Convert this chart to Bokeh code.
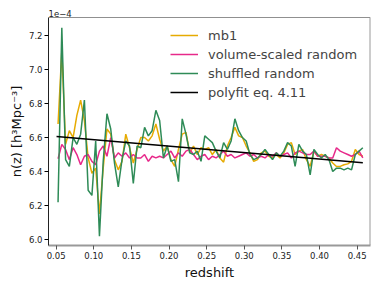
from bokeh.plotting import figure
from bokeh.models import Legend, LegendItem, Span, FixedTicker, PrintfTickFormatter, Range1d
from bokeh.embed import file_html
from bokeh.resources import INLINE

# redshift bin centres
z = [0.0525, 0.0575, 0.0625, 0.0675, 0.0725, 0.0775, 0.0825, 0.0875, 0.0925, 0.0975,
     0.1025, 0.1075, 0.1125, 0.1175, 0.1225, 0.1275, 0.1325, 0.1375, 0.1425, 0.1475,
     0.1525, 0.1575, 0.1625, 0.1675, 0.1725, 0.1775, 0.1825, 0.1875, 0.1925, 0.1975,
     0.2025, 0.2075, 0.2125, 0.2175, 0.2225, 0.2275, 0.2325, 0.2375, 0.2425, 0.2475,
     0.2525, 0.2575, 0.2625, 0.2675, 0.2725, 0.2775, 0.2825, 0.2875, 0.2925, 0.2975,
     0.3025, 0.3075, 0.3125, 0.3175, 0.3225, 0.3275, 0.3325, 0.3375, 0.3425, 0.3475,
     0.3525, 0.3575, 0.3625, 0.3675, 0.3725, 0.3775, 0.3825, 0.3875, 0.3925, 0.3975,
     0.4025, 0.4075, 0.4125, 0.4175, 0.4225, 0.4275, 0.4325, 0.4375, 0.4425, 0.4475,
     0.4525, 0.4575]

# n(z) in units of 1e-4
mb1 = [6.68, 7.11, 6.56, 6.64, 6.60, 6.73, 6.82, 6.70, 6.48, 6.39,
       6.42, 6.15, 6.42, 6.65, 6.62, 6.47, 6.41, 6.46, 6.62, 6.54,
       6.45, 6.53, 6.60, 6.60, 6.58, 6.61, 6.68, 6.59, 6.52, 6.55,
       6.47, 6.43, 6.53, 6.62, 6.63, 6.51, 6.55, 6.50, 6.54, 6.53,
       6.54, 6.50, 6.53, 6.48, 6.455, 6.55, 6.60, 6.66, 6.61, 6.60,
       6.55, 6.51, 6.46, 6.47, 6.51, 6.52, 6.49, 6.48, 6.50, 6.48,
       6.51, 6.56, 6.57, 6.50, 6.52, 6.53, 6.47, 6.43, 6.52, 6.49,
       6.50, 6.49, 6.48, 6.45, 6.43, 6.43, 6.44, 6.445, 6.46, 6.53,
       6.50, 6.49]

volume_random = [6.475, 6.56, 6.53, 6.47, 6.54, 6.50, 6.44, 6.49, 6.50, 6.46,
                 6.44, 6.52, 6.55, 6.49, 6.60, 6.48, 6.51, 6.49, 6.51, 6.48,
                 6.50, 6.48, 6.48, 6.50, 6.46, 6.49, 6.48, 6.49, 6.48, 6.50,
                 6.52, 6.48, 6.51, 6.49, 6.52, 6.53, 6.50, 6.47, 6.49, 6.50,
                 6.47, 6.49, 6.48, 6.50, 6.52, 6.49, 6.50, 6.48, 6.49, 6.50,
                 6.51, 6.49, 6.50, 6.48, 6.49, 6.48, 6.50, 6.49, 6.51, 6.49,
                 6.50, 6.51, 6.48, 6.51, 6.52, 6.51, 6.50, 6.50, 6.52, 6.49,
                 6.49, 6.49, 6.48, 6.48, 6.54, 6.52, 6.51, 6.50, 6.49, 6.50,
                 6.52, 6.48]

shuffled_random = [6.22, 7.245, 6.47, 6.43, 6.60, 6.56, 6.62, 6.82, 6.29, 6.26,
                   6.58, 6.02, 6.46, 6.74, 6.65, 6.45, 6.31, 6.47, 6.58, 6.55,
                   6.33, 6.55, 6.54, 6.66, 6.61, 6.64, 6.76, 6.70, 6.48, 6.55,
                   6.46, 6.47, 6.34, 6.71, 6.62, 6.51, 6.50, 6.52, 6.46, 6.61,
                   6.59, 6.57, 6.52, 6.48, 6.57, 6.53, 6.58, 6.71, 6.64, 6.60,
                   6.58, 6.50, 6.47, 6.48, 6.50, 6.53, 6.50, 6.47, 6.51, 6.49,
                   6.52, 6.57, 6.55, 6.43, 6.56, 6.52, 6.50, 6.38, 6.53, 6.50,
                   6.48, 6.50, 6.47, 6.40, 6.42, 6.42, 6.41, 6.42, 6.41, 6.50,
                   6.52, 6.54]

fit_z = [0.0505, 0.4575]
fit_n = [6.606, 6.452]

x_ticks = [0.05, 0.10, 0.15, 0.20, 0.25, 0.30, 0.35, 0.40, 0.45]
y_ticks = [6.0, 6.2, 6.4, 6.6, 6.8, 7.0, 7.2]

FONT = "DejaVu Sans"
X0, X1 = 0.0398, 0.4677
Y0, Y1 = 5.965, 7.306

p = figure(width=379, height=284, output_backend="svg", toolbar_location=None,
           x_range=Range1d(X0, X1), y_range=Range1d(Y0, Y1),
           min_border_left=48, min_border_right=9, min_border_top=17, min_border_bottom=39)
p.grid.visible = False
p.outline_line_color = None
p.background_fill_color = "white"
p.border_fill_color = "white"

p.title.text = "1e−4"
p.title.align = "left"
p.title.text_font = FONT
p.title.text_font_size = "8.5px"
p.title.text_font_style = "normal"
p.title.text_color = "#222222"
p.title.standoff = 1
p.title.offset = 0

r1 = p.line(z, mb1, line_color="#e6ab02", line_width=1.5)
r2 = p.line(z, volume_random, line_color="#e7298a", line_width=1.5)
r3 = p.line(z, shuffled_random, line_color="#2e8b57", line_width=1.5)
r4 = p.line(fit_z, fit_n, line_color="black", line_width=1.5)

for ax, ticks, fmt in ((p.xaxis, x_ticks, "%.2f"), (p.yaxis, y_ticks, "%.1f")):
    ax.ticker = FixedTicker(ticks=ticks)
    ax.formatter = PrintfTickFormatter(format=fmt)
    ax.major_tick_out = 4
    ax.major_tick_in = 0
    ax.minor_tick_out = 0
    ax.minor_tick_in = 0
    ax.major_label_text_font = FONT
    ax.major_label_text_font_size = "8.5px"
    ax.major_label_text_color = "#222222"
    ax.major_label_standoff = 2
    ax.axis_label_text_font = FONT
    ax.axis_label_text_font_size = "13px"
    ax.axis_label_text_font_style = "normal"
    ax.axis_label_text_color = "#111111"
    ax.axis_label_standoff = 3

p.xaxis.axis_label = "redshift"
p.yaxis.axis_label = "n(z) [h³Mpc⁻³]"
p.yaxis.axis_label_standoff = 2
p.yaxis.axis_line_color = "#222222"
p.xaxis.axis_line_color = "#999999"
p.xaxis.axis_line_width = 2
p.xaxis.major_tick_line_color = "#555555"

p.add_layout(Span(location=Y1, dimension="width", line_color="#222222", line_width=1))
p.add_layout(Span(location=X1, dimension="height", line_color="#999999", line_width=2))

legend = Legend(items=[LegendItem(label="mb1", renderers=[r1]),
                       LegendItem(label="volume-scaled random", renderers=[r2]),
                       LegendItem(label="shuffled random", renderers=[r3]),
                       LegendItem(label="polyfit eq. 4.11", renderers=[r4])],
                location=(122, 145), glyph_width=28, glyph_height=16, label_height=16,
                spacing=3, padding=0, margin=0, border_line_color=None,
                background_fill_alpha=0, label_text_font=FONT, label_text_font_size="13px",
                label_standoff=10)
p.add_layout(legend)

open("out.html", "w").write(file_html(p, INLINE))
